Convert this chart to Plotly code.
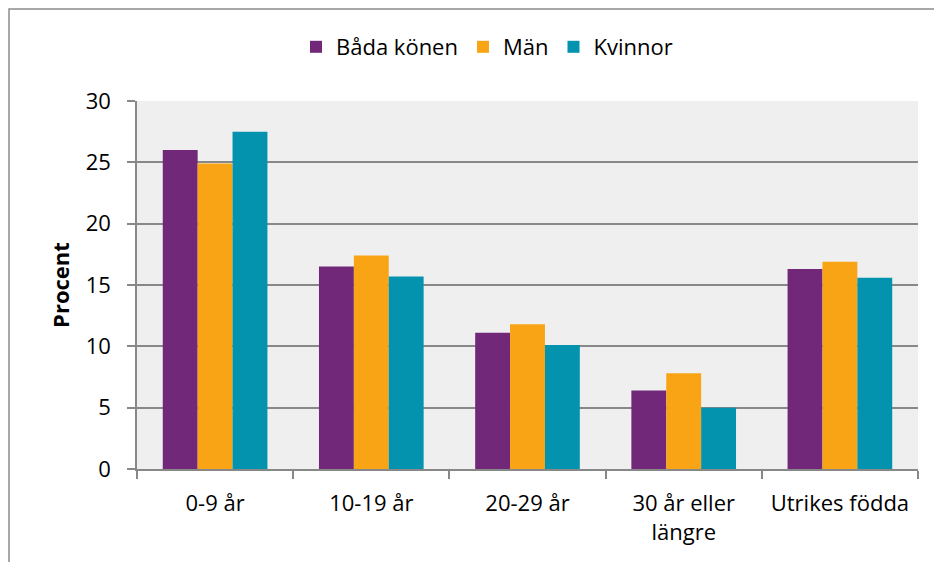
import plotly.graph_objects as go

categories = ["0-9 år", "10-19 år", "20-29 år", "30 år eller<br>längre", "Utrikes födda"]
series_names = ["Båda könen", "Män", "Kvinnor"]
bada = [26.0, 16.5, 11.1, 6.4, 16.3]
man = [24.9, 17.4, 11.8, 7.8, 16.9]
kvinnor = [27.5, 15.7, 10.1, 5.0, 15.6]
colors = ["#722878", "#F9A414", "#0493AE"]

FONT = "Open Sans"
OFF = 8  # default body margin of the html page
W, H = 942 - OFF, 562 - OFF
L, T = 137 - OFF, 101 - OFF
R, B = 942 - 918, 562 - 469
pw, ph = W - L - R, H - T - B

fig = go.Figure()
for name, vals, c in zip(series_names, [bada, man, kvinnor], colors):
    fig.add_trace(go.Bar(x=categories, y=vals, name=name, marker=dict(color=c, line=dict(width=0))))

fig.update_layout(
    width=W, height=H,
    margin=dict(l=L, r=R, t=T, b=B),
    paper_bgcolor="white",
    plot_bgcolor="#EFEFEF",
    barmode="group",
    bargap=0.33,
    bargroupgap=0,
    font=dict(family=FONT, size=22, color="black"),
    legend=dict(orientation="h", x=(487 - 137) / pw, xanchor="center",
                y=1 + (101 - 47) / ph, yanchor="middle",
                font=dict(size=22), itemwidth=30, traceorder="normal"),
    xaxis=dict(showgrid=False, showline=True, linecolor="#888888", linewidth=1.5,
               ticks="outside", tickson="boundaries", ticklen=8, tickcolor="#888888",
               tickwidth=1.5, tickfont=dict(size=22), ticklabelstandoff=14),
    yaxis=dict(range=[0, 30], dtick=5, showgrid=True, gridcolor="#888888", gridwidth=1.5,
               showline=True, linecolor="#888888", linewidth=1.5,
               ticks="outside", ticklen=8, tickcolor="#888888", tickwidth=1.5,
               tickfont=dict(size=22), zeroline=False, ticklabelstandoff=12,
               title=dict(text="<b>Procent</b>", font=dict(size=22), standoff=10)),
    shapes=[dict(type="rect", xref="paper", yref="paper",
                 x0=(9 - 137) / pw, x1=(946 - 137) / pw,
                 y0=-(566 - 469) / ph, y1=1 + (101 - 9) / ph,
                 line=dict(color="#8C8C8C", width=1.5), fillcolor="rgba(0,0,0,0)", layer="below")],
)

fig.write_html("out.html")
